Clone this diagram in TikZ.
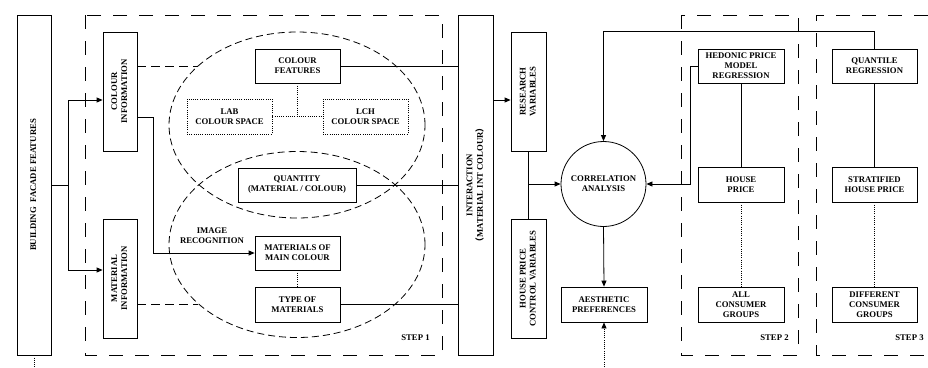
\documentclass[tikz,border=0pt]{standalone}
\usepackage{fontspec}
\usepackage{graphicx}
\setmainfont{Liberation Serif}
\newfontfamily\cjk{Noto Sans CJK SC}
\usetikzlibrary{arrows.meta,shapes.geometric}
\newcommand{\vtext}[1]{\rotatebox{90}{\begin{tabular}{@{}c@{}}#1\end{tabular}}}
\begin{document}
\begin{tikzpicture}[x=1pt,y=-1pt,
  font=\fontsize{8.7}{10}\selectfont\bfseries,
  line width=0.8pt,
  bx/.style={draw, align=center, inner sep=0pt, line width=0.8pt},
  dbx/.style={bx, dash pattern=on 1pt off 1.2pt},
  ell/.style={draw, ellipse, inner sep=0pt, minimum width=256pt, minimum height=186pt, dash pattern=on 7pt off 4pt},
  frame/.style={draw, dash pattern=on 14pt off 12pt},
  dsh/.style={dash pattern=on 9pt off 5pt},
  dot/.style={dash pattern=on 1pt off 1.2pt},
  arr/.style={-{Triangle[length=6pt,width=5pt]}},
  lbl/.style={align=center, inner sep=0pt}]
\useasboundingbox (0,0) rectangle (928,367);

% step frames
\draw[frame] (85,15) rectangle (442,355);
\draw[frame] (681,15) rectangle (798,355);
\draw[frame] (928,15) -- (816,15) -- (816,355) -- (928,355);

% ellipses
\node[ell] (ell1) at (297,125) {};
\node[ell] (ell2) at (297,244.5) {};

% boxes
\node[bx, minimum width=34pt, minimum height=340pt] (bf) at (34,185) {\vtext{BUILDING\ \ FACADE FEATURES}};
\node[bx, minimum width=34pt, minimum height=119pt] (colinfo) at (120,91.5) {\vtext{COLOUR\\INFORMATION}};
\node[bx, minimum width=34pt, minimum height=119pt] (matinfo) at (120,278.5) {\vtext{MATERIAL\\INFORMATION}};

\node[bx, minimum width=85pt, minimum height=34pt] (cf) at (297.5,66) {COLOUR\\FEATURES};
\node[dbx, minimum width=85pt, minimum height=35pt] (lab) at (229.5,116.5) {LAB\\COLOUR SPACE};
\node[dbx, minimum width=85pt, minimum height=35pt] (lch) at (365.5,116.5) {LCH\\COLOUR SPACE};
\node[bx, minimum width=118pt, minimum height=34pt] (qty) at (297,185) {QUANTITY\\(MATERIAL / COLOUR)};
\node[bx, minimum width=85pt, minimum height=34pt] (mmc) at (297.5,253) {MATERIALS OF\\MAIN COLOUR};
\node[bx, minimum width=85pt, minimum height=35pt] (tom) at (297.5,304.5) {TYPE OF\\MATERIALS};
\node[lbl] (ir) at (212,236) {IMAGE\\RECOGNITION};

\node[bx, minimum width=35pt, minimum height=340pt] (inter) at (475.5,185) {\vtext{INTERACTION\\{\cjk （}MATERIAL INT COLOUR{\cjk ）}}};
\node[bx, minimum width=35pt, minimum height=119pt] (rv) at (528.5,91.5) {\vtext{RESEARCH\\VARIABLES}};
\node[bx, minimum width=35pt, minimum height=119pt] (hpcv) at (528.5,278.5) {\vtext{HOUSE PRICE\\CONTROL VARIABLES}};

\node[bx, circle, minimum size=85pt] (ca) at (603.5,184) {CORRELATION\\ANALYSIS};
\node[bx, minimum width=86pt, minimum height=35pt] (ae) at (604,304.5) {AESTHETIC\\PREFERENCES};

\node[bx, minimum width=86pt, minimum height=34pt] (hed) at (741,66) {HEDONIC PRICE\\MODEL\\REGRESSION};
\node[bx, minimum width=86pt, minimum height=35pt] (hp) at (741,184.5) {HOUSE\\PRICE};
\node[bx, minimum width=86pt, minimum height=35pt] (acg) at (741,304.5) {ALL\\CONSUMER\\GROUPS};

\node[bx, minimum width=85pt, minimum height=34pt] (qr) at (874.5,66) {QUANTILE\\REGRESSION};
\node[bx, minimum width=85pt, minimum height=35pt] (shp) at (874.5,184.5) {STRATIFIED\\HOUSE PRICE};
\node[bx, minimum width=85pt, minimum height=35pt] (dcg) at (874.5,304.5) {DIFFERENT\\CONSUMER\\GROUPS};

% step labels
\node[lbl, anchor=east] (s1) at (430,338) {STEP 1};
\node[lbl, anchor=east] (s2) at (789,338) {STEP 2};
\node[lbl, anchor=east] (s3) at (924,338) {STEP 3};

% coordinates
\coordinate (sp) at (68,185);
\coordinate (e1) at (198,66);
\coordinate (e2) at (198,304);
\coordinate (k1) at (153,117);
\coordinate (ir1) at ([yshift=85pt]inter.east);
\coordinate (tp) at (874.5,31);
\coordinate (bot) at (604,367);
\coordinate (bot2) at (34,367);

% connectors
\draw (bf.east) -- (sp);
\draw[arr] (sp) |- ([yshift=-8.5pt]colinfo.west);
\draw[arr] (sp) |- ([yshift=8.5pt]matinfo.west);
\draw[dsh] ([yshift=25.5pt]colinfo.east) -- (e1);
\draw[dsh] ([yshift=-25.5pt]matinfo.east) -- (e2);
\draw[arr] ([yshift=-25.5pt]colinfo.east) -- (k1) |- (mmc.west);

\draw[dot] (cf.south) -- (cf.south |- lab.east);
\draw[dot] (lab.east) -- (lch.west);
\draw[dot] (mmc.south) -- (tom.north);

\draw (cf.east) -- (cf.east -| inter.west);
\draw (qty.east) -- (qty.east -| inter.west);
\draw (tom.east) -- (tom.east -| inter.west);

\draw[arr] (ir1) -- (ir1 -| rv.west);
\draw (rv.south) -- (hpcv.north);
\draw[arr] (rv.south |- ca.west) -- (ca.west);

\draw[arr] (qr.north) -- (tp) -| (ca.north);
\draw[arr] (hed.west) -- ++(-7,0) |- (ca.east);
\draw[arr] (ca.south) -- (ae.north);
\draw[dot, arr] (bot) -- (ae.south);
\draw[dot] (bf.south) -- (bot2);

\draw (hed.south) -- (hp.north);
\draw[dot] (hp.south) -- (acg.north);
\draw (qr.south) -- (shp.north);
\draw[dot] (shp.south) -- (dcg.north);
\end{tikzpicture}
\end{document}
